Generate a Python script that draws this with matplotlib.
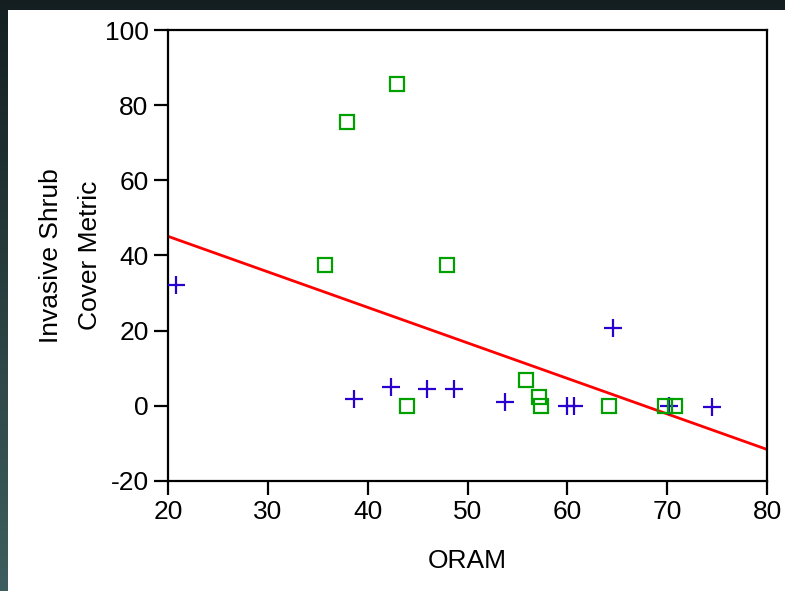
import matplotlib
matplotlib.use("Agg")
import matplotlib.pyplot as plt
import numpy as np
from matplotlib.patches import Rectangle

# values
plus_x = [20.8, 38.6, 42.3, 45.9, 48.6, 53.8, 60.0, 60.7, 64.6, 70.2, 74.5]
plus_y = [32.2, 1.7, 5.1, 4.5, 4.5, 1.0, 0.0, 0.0, 20.7, 0.0, -0.2]

square_x = [35.7, 37.9, 42.9, 43.9, 47.9, 55.9, 57.2, 57.4, 64.2, 69.8, 70.8]
square_y = [37.5, 75.4, 85.5, 0.0, 37.5, 6.9, 2.4, 0.0, 0.0, 0.0, 0.0]

fit_x = [20, 80]
fit_y = [45.1, -11.6]

x_ticks = [20, 30, 40, 50, 60, 70, 80]
y_ticks = [-20, 0, 20, 40, 60, 80, 100]

plt.rcParams['font.family'] = ['Liberation Sans', 'DejaVu Sans']
plt.rcParams['axes.unicode_minus'] = False

fig = plt.figure(figsize=(7.85, 5.91), dpi=100, facecolor="#172224")

# dark slide background, fading to teal towards the bottom
t = np.linspace(0, 1, 591)[:, None, None]
top_c = np.array([0.08, 0.12, 0.13])
bot_c = np.array([0.24, 0.37, 0.37])
bg = (top_c + (bot_c - top_c) * t) * np.ones((591, 785, 3))
fig.figimage(bg, xo=0, yo=0, origin="upper", zorder=-10)

# white slide panel behind the plot
fig.patches.append(Rectangle((8 / 785, 0), 1, 1 - 10 / 591,
                             transform=fig.transFigure, facecolor="white",
                             edgecolor="none", zorder=-5))

ax = fig.add_axes([168 / 785, 1 - 481 / 591, 599 / 785, 451 / 591])
ax.set_zorder(2)
ax.set_facecolor("white")

ax.plot(fit_x, fit_y, color="#ff0000", lw=2.0, zorder=2)
ax.plot(plus_x, plus_y, ls="none", marker="+", ms=13, mew=1.6,
        color="#2a00d0", zorder=3)
ax.plot(square_x, square_y, ls="none", marker="s", ms=9.5, mew=1.6,
        mfc="none", mec="#00a000", zorder=3)

ax.set_xlim(20, 80)
ax.set_ylim(-20, 100)
ax.set_xticks(x_ticks)
ax.set_yticks(y_ticks)

for s in ax.spines.values():
    s.set_linewidth(1.6)
    s.set_color("black")

ax.tick_params(direction="out", length=10, width=1.6, labelsize=19,
               pad=4, top=False, right=False)

ax.set_xlabel("ORAM", fontsize=19, labelpad=18)
ax.set_ylabel("Invasive Shrub\nCover Metric", fontsize=19, labelpad=2,
              linespacing=1.8)

fig.savefig("out.png", dpi=100, facecolor=fig.get_facecolor())
